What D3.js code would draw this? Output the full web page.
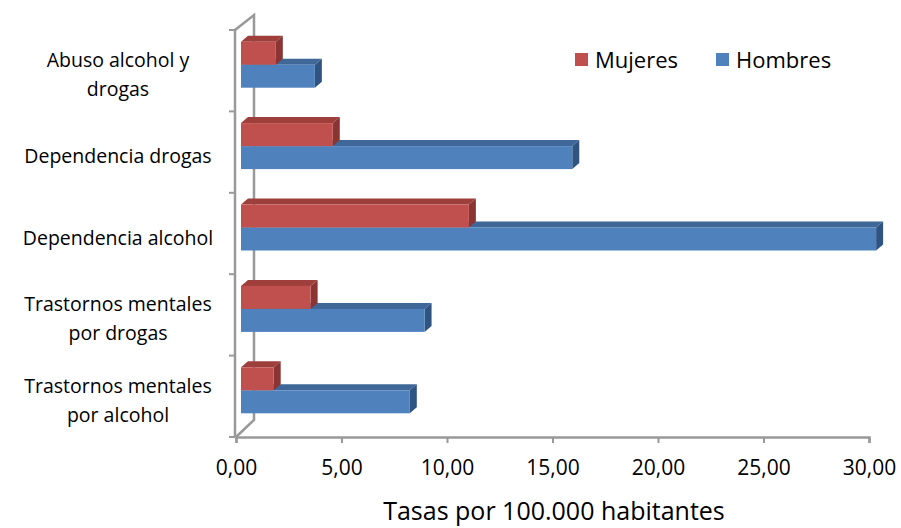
<!DOCTYPE html>
<html><head><meta charset="utf-8">
<script src="https://cdn.jsdelivr.net/npm/d3@7"></script>
<style>body{margin:0;background:#fff}text{font-family:"Open Sans","Liberation Sans",sans-serif;fill:#000}</style>
</head><body>
<svg id="chart" width="901" height="528"></svg>
<script>
// Datos
const categorias = ["Abuso alcohol y drogas", "Dependencia drogas", "Dependencia alcohol",
  "Trastornos mentales por drogas", "Trastornos mentales por alcohol"];
const etiquetas = [["Abuso alcohol y", "drogas"], ["Dependencia drogas"], ["Dependencia alcohol"],
  ["Trastornos mentales", "por drogas"], ["Trastornos mentales", "por alcohol"]];
const mujeres = [1.65, 4.35, 10.8, 3.3, 1.55];
const hombres = [3.5, 15.7, 30.1, 8.7, 8.0];
const ticks = [0, 5, 10, 15, 20, 25, 30];

const svg = d3.select("#chart");
const dx = 7, dy = -6;   // profundidad 3D
const x = d3.scaleLinear().domain([0, 30]).range([236, 869]);
const y = d3.scaleBand().domain(categorias).range([30, 437]);

// pared y ejes
const gris = "#999";
svg.append("path").attr("d", `M235,30 L254,15 L254,420 L236,437`).attr("fill", "none").attr("stroke", gris).attr("stroke-width", 2.5);
svg.append("line").attr("x1", 235).attr("x2", 235).attr("y1", 30).attr("y2", 437).attr("stroke", gris).attr("stroke-width", 2.5);
[30, ...categorias.map(c => y(c) + y.bandwidth())].forEach(v =>
  svg.append("line").attr("x1", 229).attr("x2", 235).attr("y1", v).attr("y2", v).attr("stroke", gris).attr("stroke-width", 2));

const ax = svg.append("g").attr("transform", "translate(0,437)")
  .call(d3.axisBottom(x).tickValues(ticks).tickSize(6).tickFormat(d => d3.format(".2f")(d).replace(".", ",")));
ax.select(".domain").attr("stroke", gris).attr("stroke-width", 2.5);
ax.selectAll(".tick line").attr("stroke", gris).attr("stroke-width", 2);
ax.selectAll(".tick text").attr("font-size", 21).attr("y", 38).attr("dy", 0).style("font-family", '"Open Sans","Liberation Sans",sans-serif');

svg.append("text").attr("x", 554).attr("y", 520).attr("text-anchor", "middle").attr("font-size", 25)
  .text("Tasas por 100.000 habitantes");

// etiquetas de categorías
categorias.forEach((c, i) => {
  const l = etiquetas[i], cy = y(c) + y.bandwidth() / 2 - 6;
  l.forEach((t, j) => svg.append("text").attr("x", 118).attr("text-anchor", "middle").attr("font-size", 19.5)
    .attr("y", cy + (j - (l.length - 1) / 2) * 29 + 17).text(t));
});

// barras 3D
const x0 = 241, k = (x(30) - x(0)) / 30;
const series = [
  { nombre: "Hombres", vals: hombres, off: 1, c: "#4F81BD", top: "#3F6898", side: "#2F5482" },
  { nombre: "Mujeres", vals: mujeres, off: 0, c: "#C0504D", top: "#9E3F3C", side: "#8A3533" }
];
const h = 23;
series.forEach(s => {
  const g = svg.append("g");
  s.vals.forEach((v, i) => {
    const yt = y(categorias[i]) + y.bandwidth() / 2 - 6 - h + s.off * h;
    const xe = x0 + v * k;
    g.append("polygon").attr("points", `${x0},${yt} ${x0 + dx},${yt + dy} ${xe + dx},${yt + dy} ${xe},${yt}`).attr("fill", s.top);
    g.append("polygon").attr("points", `${xe},${yt} ${xe + dx},${yt + dy} ${xe + dx},${yt + h + dy} ${xe},${yt + h}`).attr("fill", s.side);
    g.append("rect").attr("x", x0).attr("y", yt).attr("width", xe - x0).attr("height", h).attr("fill", s.c);
  });
});

// leyenda
[["Mujeres", "#C0504D", 575], ["Hombres", "#4F81BD", 716]].forEach(([n, c, lx]) => {
  svg.append("rect").attr("x", lx).attr("y", 53).attr("width", 13).attr("height", 13).attr("fill", c);
  svg.append("text").attr("x", lx + 20).attr("y", 68).attr("font-size", 22).text(n);
});
</script>
</body></html>
